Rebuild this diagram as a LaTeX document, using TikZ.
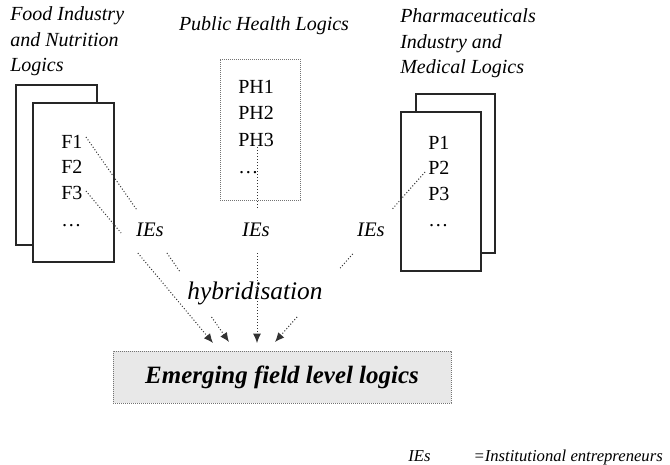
\documentclass[tikz,border=0pt]{standalone}
\usepackage{fontspec}
\setmainfont{Liberation Serif}
\usetikzlibrary{arrows.meta}
\begin{document}
\begin{tikzpicture}[x=0.75pt,y=-0.75pt,
  heading/.style={font=\fontsize{15pt}{19.1pt}\selectfont\itshape, align=left, inner sep=0pt},
  item/.style={font=\fontsize{15pt}{18pt}\selectfont, inner sep=0pt, anchor=base west},
  sheet/.style={draw=black!85, line width=0.9pt, fill=white, inner sep=0pt},
  dotbox/.style={draw=black!55, line width=0.6pt, dash pattern=on 0.6pt off 0.9pt, inner sep=0pt},
  actor/.style={font=\fontsize{15.5pt}{18pt}\selectfont\itshape, inner sep=0pt},
  dots/.style={draw=black!80, line width=0.75pt, dash pattern=on 0.75pt off 1.5pt},
  link/.style={dots, -{Latex[length=7pt,width=6pt]}}
]
\useasboundingbox (0,0) rectangle (670,464);

% headings
\node[heading, anchor=north west] (foodtitle) at (10,6.7)
  {Food Industry\\and Nutrition\\Logics};
\node[heading, anchor=base] (phtitle) at (264,30) {Public Health Logics};
\node[heading, anchor=north west] (pharmtitle) at (400,8.7)
  {Pharmaceuticals\\Industry and\\Medical Logics};

% food industry sheets
\node[sheet, minimum width=60.75pt, minimum height=120pt] (foodback) at (56.5,165) {};
\node[sheet, minimum width=60.75pt, minimum height=119.25pt] (foodfront) at (73.5,182.5) {};
\node[item] (f1) at (61,148.3) {F1};
\node[item] (f2) at (61,173.8) {F2};
\node[item] (f3) at (61,199.3) {F3};
\node[item] (fdots) at (61,226) {…};

% public health sheet
\node[dotbox, minimum width=60pt, minimum height=105.75pt] (phbox) at (260,129.5) {};
\node[item] (ph1) at (238,93.3) {PH1};
\node[item] (ph2) at (238,119.8) {PH2};
\node[item] (ph3) at (238,146) {PH3};
\node[item] (phdots) at (238,173) {…};

% pharmaceutical sheets
\node[sheet, minimum width=59.25pt, minimum height=119.25pt] (pharmback) at (455.5,173.5) {};
\node[sheet, minimum width=60pt, minimum height=119.25pt] (pharmfront) at (441,191.5) {};
\node[item] (p1) at (428,149.3) {P1};
\node[item] (p2) at (428,174.5) {P2};
\node[item] (p3) at (428,200) {P3};
\node[item] (pdots) at (428,226) {…};

% emerging logics
\node[dotbox, fill=black!9, minimum width=253.5pt, minimum height=39pt,
  font=\fontsize{18.7pt}{22pt}\selectfont\bfseries\itshape] (target) at (282,377)
  {Emerging field level logics};

% institutional entrepreneurs and hybridisation
\node[actor] (iesL) at (150,230) {IEs};
\node[actor] (iesM) at (256,230) {IEs};
\node[actor] (iesR) at (371,230) {IEs};
\node[font=\fontsize{19pt}{22pt}\selectfont\itshape, inner sep=0pt] (hyb) at (255,293) {hybridisation};

% legend
\node[font=\fontsize{12.5pt}{16pt}\selectfont\itshape, inner sep=0pt, anchor=base west] (legend)
  at (408,461) {\makebox[49pt][l]{IEs}=Institutional entrepreneurs};

% link ends
\coordinate (sf1) at (86,137);
\coordinate (sf3) at (86,191);
\coordinate (sph) at (257,147);
\coordinate (sp2) at (425,172);
\coordinate (t1) at (213,343);
\coordinate (t2) at (229,342);
\coordinate (t3) at (257,343);
\coordinate (t4) at (275,342);

% break points where the links pass behind the labels
\path (sf1) -- (t2) coordinate[pos=0.356] (a1) coordinate[pos=0.566] (a2)
                    coordinate[pos=0.659] (a3) coordinate[pos=0.878] (a4);
\path (sf3) -- (t1) coordinate[pos=0.276] (b1) coordinate[pos=0.408] (b2);
\path (sp2) -- (t4) coordinate[pos=0.218] (c1) coordinate[pos=0.482] (c2)
                    coordinate[pos=0.565] (c3) coordinate[pos=0.853] (c4);
\path (sph) -- (t3) coordinate[pos=0.316] (d1) coordinate[pos=0.541] (d2);

% links
\draw[dots] (sf1) -- (a1);
\draw[dots] (a2) -- (a3);
\draw[link] (a4) -- (t2);
\draw[dots] (sf3) -- (b1);
\draw[link] (b2) -- (t1);
\draw[dots] (sp2) -- (c1);
\draw[dots] (c2) -- (c3);
\draw[link] (c4) -- (t4);
\draw[dots] (sph) -- (d1);
\draw[link] (d2) -- (t3);
\end{tikzpicture}
\end{document}
